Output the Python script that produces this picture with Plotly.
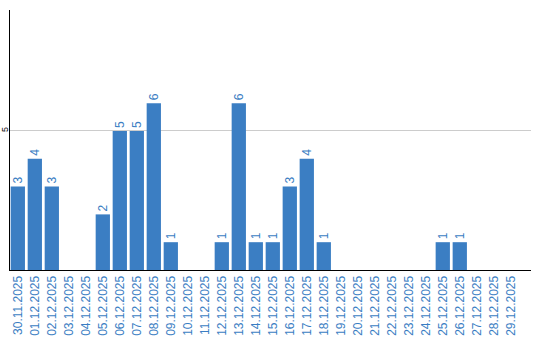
import plotly.graph_objects as go

dates = ["30.11.2025", "01.12.2025", "02.12.2025", "03.12.2025", "04.12.2025",
         "05.12.2025", "06.12.2025", "07.12.2025", "08.12.2025", "09.12.2025",
         "10.12.2025", "11.12.2025", "12.12.2025", "13.12.2025", "14.12.2025",
         "15.12.2025", "16.12.2025", "17.12.2025", "18.12.2025", "19.12.2025",
         "20.12.2025", "21.12.2025", "22.12.2025", "23.12.2025", "24.12.2025",
         "25.12.2025", "26.12.2025", "27.12.2025", "28.12.2025", "29.12.2025"]
counts = [3, 4, 3, 0, 0, 2, 5, 5, 6, 1,
          0, 0, 1, 6, 1, 1, 3, 4, 1, 0,
          0, 0, 0, 0, 0, 1, 1, 0, 0, 0]

BLUE = "#3b7ec3"
FONT = "Liberation Sans, Arial, sans-serif"
labels = [str(v) if v else "" for v in counts]

fig = go.Figure(go.Bar(
    x=list(range(len(dates))), y=counts, text=labels,
    textposition="outside", textangle=-90,
    textfont=dict(family=FONT, size=12, color=BLUE),
    marker=dict(color=BLUE, line=dict(width=0)),
    cliponaxis=False, hoverinfo="skip",
))

fig.update_layout(
    width=540, height=340,
    margin=dict(l=10, r=9, t=10, b=70),
    paper_bgcolor="white", plot_bgcolor="white",
    bargap=0.16, showlegend=False,
    font=dict(family=FONT),
)
fig.update_xaxes(
    tickmode="array", tickvals=list(range(len(dates))), ticktext=dates,
    tickangle=-90, tickfont=dict(family=FONT, size=12, color=BLUE),
    range=[-0.46, 30.19], showgrid=False, zeroline=False, automargin=False,
    showline=True, linecolor="black", linewidth=1, ticks="", fixedrange=True,
)
fig.update_yaxes(
    range=[0, 9.35], tickvals=[5], ticktext=["5"], tickangle=-90,
    tickfont=dict(family=FONT, size=9, color="black"), showgrid=True,
    gridcolor="#cccccc", gridwidth=1, zeroline=False, showline=True,
    linecolor="black", automargin=False, linewidth=1, ticks="",
    ticklabelstandoff=-3, fixedrange=True,
)

fig.write_html("out.html", config={"displayModeBar": False})
